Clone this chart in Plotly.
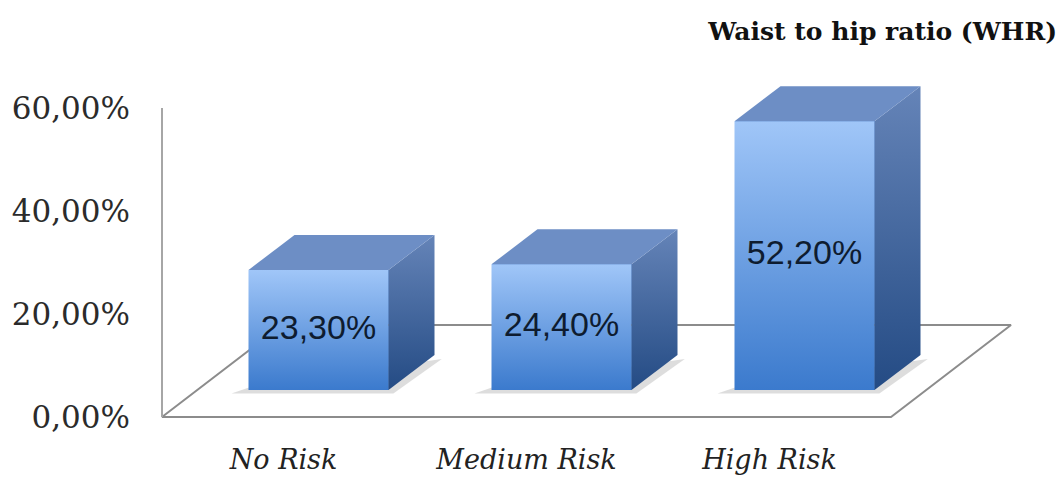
import plotly.graph_objects as go

# ---------------- data ----------------
CATEGORIES = ["No Risk", "Medium Risk", "High Risk"]
VALUES = [23.3, 24.4, 52.2]
VALUE_LABELS = ["23,30%", "24,40%", "52,20%"]
Y_TICK_VALUES = [0, 20, 40, 60]
Y_TICK_LABELS = ["0,00%", "20,00%", "40,00%", "60,00%"]
TITLE = "Waist to hip ratio (WHR)"

# ---------------- geometry (pseudo 3D projection) ----------------
PX_X = 243.0      # pixels per category unit
PX_Y = 5.15       # pixels per percent unit
FLOOR_DX = 120 / PX_X
FLOOR_DY = 92 / PX_Y
BAR_DX0 = 35 / PX_X
BAR_DY0 = 27 / PX_Y
BAR_DDX = 46 / PX_X
BAR_DDY = 35 / PX_Y
BAR_W = 140 / PX_X
X_LEFT, X_RIGHT = -0.5, len(CATEGORIES) - 0.5

ML, MR, MT, MB = 150, 13, 60, 39
W, H = 1063, 479
plot_w = W - ML - MR
plot_h = H - MT - MB
x_min = X_LEFT - 12 / PX_X
x_max = x_min + plot_w / PX_X
y_min = -(H - MB - 417) / PX_Y
y_max = y_min + plot_h / PX_Y

FRONT_TOP, FRONT_BOT = "#a0c6f8", "#3b7acd"
SIDE_TOP, SIDE_BOT = "#6584b8", "#244b84"
TOP_COLOR = "#6d8ec5"
LINE_COLOR = "#8c8c8c"

fig = go.Figure()

# floor outline and vertical axis line
fig.add_trace(go.Scatter(
    x=[X_LEFT + FLOOR_DX, X_LEFT, X_RIGHT, X_RIGHT + FLOOR_DX, X_LEFT + FLOOR_DX],
    y=[FLOOR_DY, 0, 0, FLOOR_DY, FLOOR_DY],
    mode="lines", line=dict(color=LINE_COLOR, width=2),
    hoverinfo="skip", showlegend=False))
fig.add_trace(go.Scatter(
    x=[X_LEFT, X_LEFT], y=[0, Y_TICK_VALUES[-1]],
    mode="lines", line=dict(color="#a6a6a6", width=2),
    hoverinfo="skip", showlegend=False))

xs = [i + BAR_DX0 for i in range(len(CATEGORIES))]

# shadows
for xc, v in zip(xs, VALUES):
    x0, x1 = xc - BAR_W / 2, xc + BAR_W / 2
    fig.add_trace(go.Scatter(
        x=[x0 - 0.07, x1 + 0.02, x1 + BAR_DDX + 0.03, x0 + 0.02],
        y=[BAR_DY0 - 0.7, BAR_DY0 - 0.7, BAR_DY0 + BAR_DDY - 0.8, BAR_DY0 + 0.8],
        fill="toself", fillcolor="rgba(120,120,120,0.25)", mode="none",
        hoverinfo="skip", showlegend=False))

# bars (front faces)
fig.add_trace(go.Bar(
    x=xs, y=VALUES, base=BAR_DY0, width=BAR_W,
    marker=dict(color="#6ea2e6", line=dict(width=0)),
    hoverinfo="skip", showlegend=False))

for xc, v in zip(xs, VALUES):
    x0, x1 = xc - BAR_W / 2, xc + BAR_W / 2
    b, t = BAR_DY0, BAR_DY0 + v
    # front gradient
    fig.add_trace(go.Scatter(
        x=[x0, x1, x1, x0, x0], y=[b, b, t, t, b],
        fill="toself", mode="none",
        fillgradient=dict(type="vertical", start=b, stop=t,
                          colorscale=[[0, FRONT_BOT], [1, FRONT_TOP]]),
        hoverinfo="skip", showlegend=False))
    # side face
    fig.add_trace(go.Scatter(
        x=[x1, x1 + BAR_DDX, x1 + BAR_DDX, x1, x1],
        y=[b, b + BAR_DDY, t + BAR_DDY, t, b],
        fill="toself", mode="none",
        fillgradient=dict(type="vertical", start=b, stop=t + BAR_DDY,
                          colorscale=[[0, SIDE_BOT], [1, SIDE_TOP]]),
        hoverinfo="skip", showlegend=False))
    # top face
    fig.add_trace(go.Scatter(
        x=[x0, x1, x1 + BAR_DDX, x0 + BAR_DDX, x0],
        y=[t, t, t + BAR_DDY, t + BAR_DDY, t],
        fill="toself", fillcolor=TOP_COLOR, mode="none",
        hoverinfo="skip", showlegend=False))

# value labels
fig.add_trace(go.Scatter(
    x=xs, y=[BAR_DY0 + v / 2 for v in VALUES],
    mode="text", text=VALUE_LABELS,
    textfont=dict(family="Liberation Sans", size=34, color="#0e1c30"),
    hoverinfo="skip", showlegend=False))

fig.update_layout(
    width=W, height=H,
    margin=dict(l=ML, r=MR, t=MT, b=MB),
    paper_bgcolor="white", plot_bgcolor="white",
    title=dict(text=f"<b>{TITLE}</b>", xref="container", yref="container",
               x=1057 / W, xanchor="right", y=1 - 31 / H, yanchor="middle",
               font=dict(family="DejaVu Serif", size=25, color="#111111")),
    xaxis=dict(range=[x_min, x_max], showgrid=False, zeroline=False,
               showline=False, tickmode="array", automargin=False,
               tickvals=list(range(len(CATEGORIES))), ticktext=CATEGORIES,
               tickfont=dict(family="DejaVu Serif", size=27, color="#222222",
                             style="italic"),
               ticks="", ticklabelstandoff=1),
    yaxis=dict(range=[y_min, y_max], showgrid=False, zeroline=False,
               showline=False, tickmode="array", automargin=False,
               tickvals=Y_TICK_VALUES, ticktext=Y_TICK_LABELS,
               tickfont=dict(family="DejaVu Serif", size=31, color="#2b2b2b"),
               ticks="", ticklabelstandoff=19),
    bargap=0,
)

fig.write_html("out.html")
